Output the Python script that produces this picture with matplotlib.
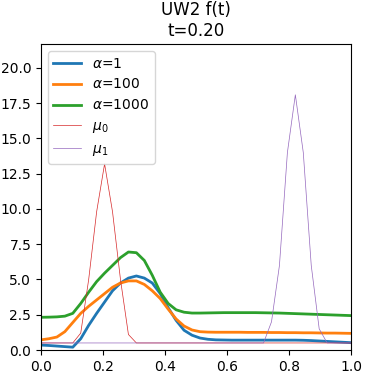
import numpy as np
import matplotlib
matplotlib.use("Agg")
import matplotlib.pyplot as plt

x = np.linspace(0, 1, 40)

f_a1 = [0.35, 0.32, 0.28, 0.24, 0.20, 0.80, 1.75, 2.60, 3.40, 4.20,
        4.75, 5.10, 5.25, 5.10, 4.75, 4.00, 3.00, 2.10, 1.40, 1.05,
        0.85, 0.76, 0.72, 0.71, 0.70, 0.70, 0.70, 0.70, 0.70, 0.70,
        0.70, 0.70, 0.70, 0.69, 0.67, 0.64, 0.61, 0.58, 0.55, 0.52]
f_a100 = [0.72, 0.80, 0.92, 1.30, 1.95, 2.60, 3.10, 3.55, 4.00, 4.45,
          4.75, 4.90, 4.90, 4.65, 4.20, 3.65, 2.90, 2.20, 1.70, 1.42,
          1.30, 1.27, 1.26, 1.26, 1.26, 1.26, 1.25, 1.25, 1.25, 1.24,
          1.24, 1.23, 1.23, 1.22, 1.22, 1.21, 1.20, 1.20, 1.19, 1.18]
f_a1000 = [2.32, 2.33, 2.35, 2.40, 2.60, 3.30, 4.10, 4.85, 5.45, 6.00,
           6.55, 6.95, 6.90, 6.35, 5.30, 4.10, 3.30, 2.85, 2.68, 2.62,
           2.62, 2.63, 2.64, 2.65, 2.65, 2.65, 2.65, 2.65, 2.64, 2.63,
           2.62, 2.60, 2.58, 2.56, 2.54, 2.52, 2.50, 2.48, 2.46, 2.44]
mu0 = [0.5, 0.5, 0.5, 0.5, 0.5, 1.2, 5.0, 9.8, 13.2, 9.8,
       5.0, 1.1, 0.5, 0.5, 0.5, 0.5, 0.5, 0.5, 0.5, 0.5,
       0.5, 0.5, 0.5, 0.5, 0.5, 0.5, 0.5, 0.5, 0.5, 0.5,
       0.5, 0.5, 0.5, 0.5, 0.5, 0.5, 0.5, 0.5, 0.5, 0.5]
mu1 = [0.5, 0.5, 0.5, 0.5, 0.5, 0.5, 0.5, 0.5, 0.5, 0.5,
       0.5, 0.5, 0.5, 0.5, 0.5, 0.5, 0.5, 0.5, 0.5, 0.5,
       0.5, 0.5, 0.5, 0.5, 0.5, 0.5, 0.5, 0.5, 0.5, 2.0,
       6.0, 14.0, 18.1, 14.0, 6.0, 1.5, 0.5, 0.5, 0.5, 0.5]

fig = plt.figure(figsize=(3.65, 3.79), dpi=100)
ax = fig.add_axes([0.1123, 0.0765, 0.8493, 0.8074])

ax.plot(x, f_a1, lw=2, label=r"$\alpha$=1")
ax.plot(x, f_a100, lw=2, label=r"$\alpha$=100")
ax.plot(x, f_a1000, lw=2, label=r"$\alpha$=1000")
ax.plot(x, mu0, color="C3", lw=0.5, label=r"$\mu_0$")
ax.plot(x, mu1, color="C4", lw=0.5, label=r"$\mu_1$")

ax.set_xlim(0, 1)
ax.set_ylim(0, 21.7)
ax.set_yticks(np.arange(0, 20.1, 2.5))
ax.set_title("UW2 f(t)\nt=0.20")
ax.legend(loc="upper left")

fig.savefig("out.png")
